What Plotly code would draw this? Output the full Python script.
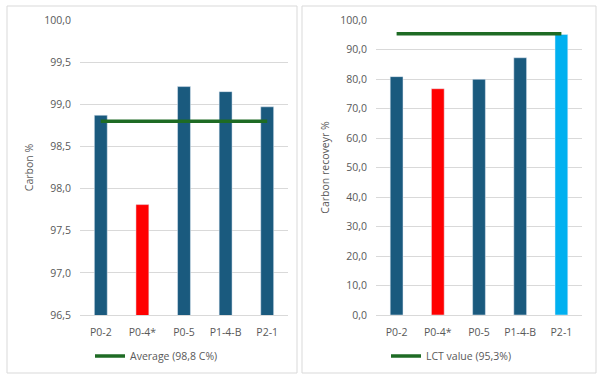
import plotly.graph_objects as go

categories = ["P0-2", "P0-4*", "P0-5", "P1-4-B", "P2-1"]
carbon_pct = [98.87, 97.81, 99.21, 99.15, 98.97]
carbon_colors = ["#1A5A7E", "#FF0000", "#1A5A7E", "#1A5A7E", "#1A5A7E"]
average_value = 98.8
average_label = "Average (98,8 C%)"

recovery_pct = [80.8, 76.7, 79.9, 87.2, 95.1]
recovery_colors = ["#1A5A7E", "#FF0000", "#1A5A7E", "#1A5A7E", "#00B0F0"]
lct_value = 95.3
lct_label = "LCT value (95,3%)"

W, H = 605, 383
GREEN = "#1E6B24"
GRID = "#D9D9D9"
TXT = "#595959"
FONT = "Open Sans"
FS = 10.5

fig = go.Figure()

fig.add_trace(go.Bar(x=categories, y=carbon_pct, marker_color=carbon_colors,
                     showlegend=False, xaxis="x", yaxis="y"))
fig.add_trace(go.Scatter(x=categories, y=[average_value] * len(categories), mode="lines",
                         line=dict(color=GREEN, width=3.5), name=average_label,
                         xaxis="x", yaxis="y", legend="legend"))
fig.add_trace(go.Bar(x=categories, y=recovery_pct, marker_color=recovery_colors,
                     showlegend=False, xaxis="x2", yaxis="y2"))
fig.add_trace(go.Scatter(x=categories, y=[lct_value] * len(categories), mode="lines",
                         line=dict(color=GREEN, width=3.5), name=lct_label,
                         xaxis="x2", yaxis="y2", legend="legend2"))

ydom = [1 - 315 / H, 1 - 20 / H]
axis_common = dict(showgrid=False, showline=True, linecolor=GRID, linewidth=1,
                   tickfont=dict(size=FS, color=TXT, family=FONT), ticks="",
                   automargin=False, ticklabelstandoff=7)
yaxis_common = dict(showgrid=True, gridcolor=GRID, gridwidth=1, zeroline=False,
                    showline=False, tickfont=dict(size=FS, color=TXT, family=FONT),
                    tickformat=".1f", ticklabelstandoff=8, automargin=False)

fig.update_layout(
    width=W, height=H,
    margin=dict(l=0, r=0, t=0, b=0, pad=0),
    paper_bgcolor="white", plot_bgcolor="white",
    separators=",.",
    bargap=0.69,
    font=dict(family=FONT, color=TXT, size=FS),
    xaxis=dict(domain=[80 / W, 288 / W], anchor="y", **axis_common),
    yaxis=dict(domain=ydom, anchor="x", range=[96.5, 100], dtick=0.5,
               title=dict(text="Carbon %", font=dict(size=FS, color=TXT, family=FONT), standoff=8),
               **yaxis_common),
    xaxis2=dict(domain=[376 / W, 582 / W], anchor="y2", **axis_common),
    yaxis2=dict(domain=ydom, anchor="x2", range=[0, 100], dtick=10,
                title=dict(text="Carbon recoveyr %", font=dict(size=FS, color=TXT, family=FONT), standoff=8),
                **yaxis_common),
    legend=dict(x=90 / W, y=1 - 356 / H, xanchor="left", yanchor="middle",
                font=dict(size=FS, color=TXT, family=FONT), bgcolor="rgba(0,0,0,0)"),
    legend2=dict(x=386 / W, y=1 - 356 / H, xanchor="left", yanchor="middle",
                 font=dict(size=FS, color=TXT, family=FONT), bgcolor="rgba(0,0,0,0)"),
    shapes=[
        dict(type="rect", xref="paper", yref="paper", x0=7 / W, x1=297 / W,
             y0=1 - 373 / H, y1=1 - 6 / H, line=dict(color=GRID, width=1)),
        dict(type="rect", xref="paper", yref="paper", x0=302 / W, x1=596 / W,
             y0=1 - 373 / H, y1=1 - 6 / H, line=dict(color=GRID, width=1)),
    ],
)

fig.write_html("out.html", config={"displayModeBar": False},
               post_script="document.body.style.margin='0px';document.body.style.overflow='hidden';")
